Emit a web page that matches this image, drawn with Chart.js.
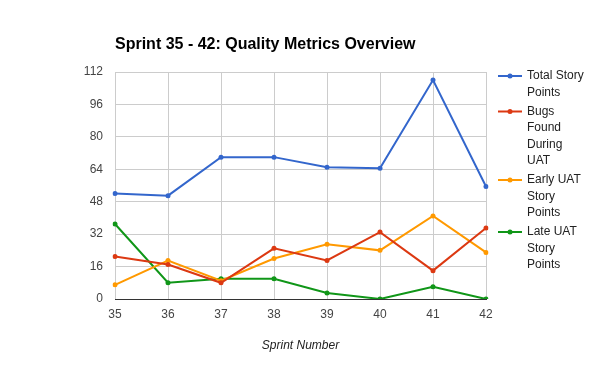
<!DOCTYPE html>
<html>
<head>
<meta charset="utf-8">
<script src="https://cdn.jsdelivr.net/npm/chart.js@4.4.0/dist/chart.umd.min.js"></script>
<style>
  html, body { margin: 0; padding: 0; background: #fff; }
  #wrap { width: 600px; height: 371px; position: relative; }
</style>
</head>
<body>
<div id="wrap"><canvas id="chart" width="600" height="371"></canvas></div>
<script>
// Données du graphique
const sprints = ['35', '36', '37', '38', '39', '40', '41', '42'];
const totalStoryPoints = [52, 51, 70, 70, 65, 64.5, 108, 55.5];
const bugsFoundDuringUat = [21, 17, 8, 25, 19, 33, 14, 35];
const earlyUatStoryPoints = [7, 19, 9, 20, 27, 24, 41, 23];
const lateUatStoryPoints = [37, 8, 10, 10, 3, 0, 6, 0];
const yTicks = [0, 16, 32, 48, 64, 80, 96, 112];

const chartTitle = 'Sprint 35 - 42: Quality Metrics Overview';
const xTitle = 'Sprint Number';

const fontFamily = 'Arial, "Liberation Sans", sans-serif';

function makeDataset(label, data, color) {
    return {
        label: label,
        data: data,
        borderColor: color,
        backgroundColor: color,
        borderWidth: 2,
        pointRadius: 2.5,
        pointHoverRadius: 2.5,
        pointBorderWidth: 0,
        tension: 0,
        fill: false
    };
}

// Titre et légende dessinés à la main (la légende est sur plusieurs lignes)
const customPlugin = {
    id: 'customDecor',
    afterDraw(chart) {
        const ctx = chart.ctx;
        ctx.save();
        // titre
        ctx.fillStyle = '#000';
        ctx.font = 'bold 16px ' + fontFamily;
        ctx.textBaseline = 'middle';
        ctx.textAlign = 'left';
        ctx.fillText(chartTitle, 115, 45);

        // légende
        ctx.font = '12px ' + fontFamily;
        const maxWidth = 60;
        const lineH = 16.5;
        let y = 76;
        chart.data.datasets.forEach(ds => {
            const words = ds.label.split(' ');
            const lines = [];
            let cur = '';
            words.forEach(w => {
                const test = cur ? cur + ' ' + w : w;
                if (cur && ctx.measureText(test).width > maxWidth) {
                    lines.push(cur);
                    cur = w;
                } else {
                    cur = test;
                }
            });
            if (cur) lines.push(cur);

            ctx.strokeStyle = ds.borderColor;
            ctx.lineWidth = 2;
            ctx.beginPath();
            ctx.moveTo(498, y);
            ctx.lineTo(522, y);
            ctx.stroke();
            ctx.fillStyle = ds.borderColor;
            ctx.beginPath();
            ctx.arc(510, y, 2.5, 0, Math.PI * 2);
            ctx.fill();

            ctx.fillStyle = '#222';
            lines.forEach((l, i) => {
                ctx.fillText(l, 527, y + i * lineH);
            });
            y += lines.length * lineH + 2.5;
        });
        ctx.restore();
    }
};

const ctx = document.getElementById('chart').getContext('2d');
new Chart(ctx, {
    type: 'line',
    data: {
        labels: sprints,
        datasets: [
            makeDataset('Total Story Points', totalStoryPoints, '#3366cc'),
            makeDataset('Bugs Found During UAT', bugsFoundDuringUat, '#dc3912'),
            makeDataset('Early UAT Story Points', earlyUatStoryPoints, '#ff9900'),
            makeDataset('Late UAT Story Points', lateUatStoryPoints, '#109618')
        ]
    },
    options: {
        responsive: false,
        animation: false,
        layout: { padding: { top: 72, right: 114, left: 0, bottom: 0 } },
        plugins: {
            legend: { display: false },
            title: { display: false },
            tooltip: { enabled: false }
        },
        scales: {
            x: {
                offset: false,
                grid: { color: '#cccccc', drawTicks: false },
                border: { color: '#333333', width: 1 },
                ticks: { color: '#444', font: { family: fontFamily, size: 12 }, padding: 8, maxRotation: 0 },
                title: {
                    display: true,
                    text: xTitle,
                    color: '#222',
                    font: { family: fontFamily, size: 12, style: 'italic' },
                    padding: { top: 0, bottom: 18 }
                },
                afterFit(scale) { scale.height = 72; }
            },
            y: {
                min: 0,
                max: 112,
                afterBuildTicks(scale) {
                    scale.ticks = yTicks.map(v => ({ value: v }));
                },
                grid: { color: '#cccccc', drawTicks: false },
                border: { display: false },
                ticks: { color: '#444', font: { family: fontFamily, size: 12 }, padding: 12 },
                afterFit(scale) { scale.width = 115; }
            }
        }
    },
    plugins: [customPlugin]
});
</script>
</body>
</html>
